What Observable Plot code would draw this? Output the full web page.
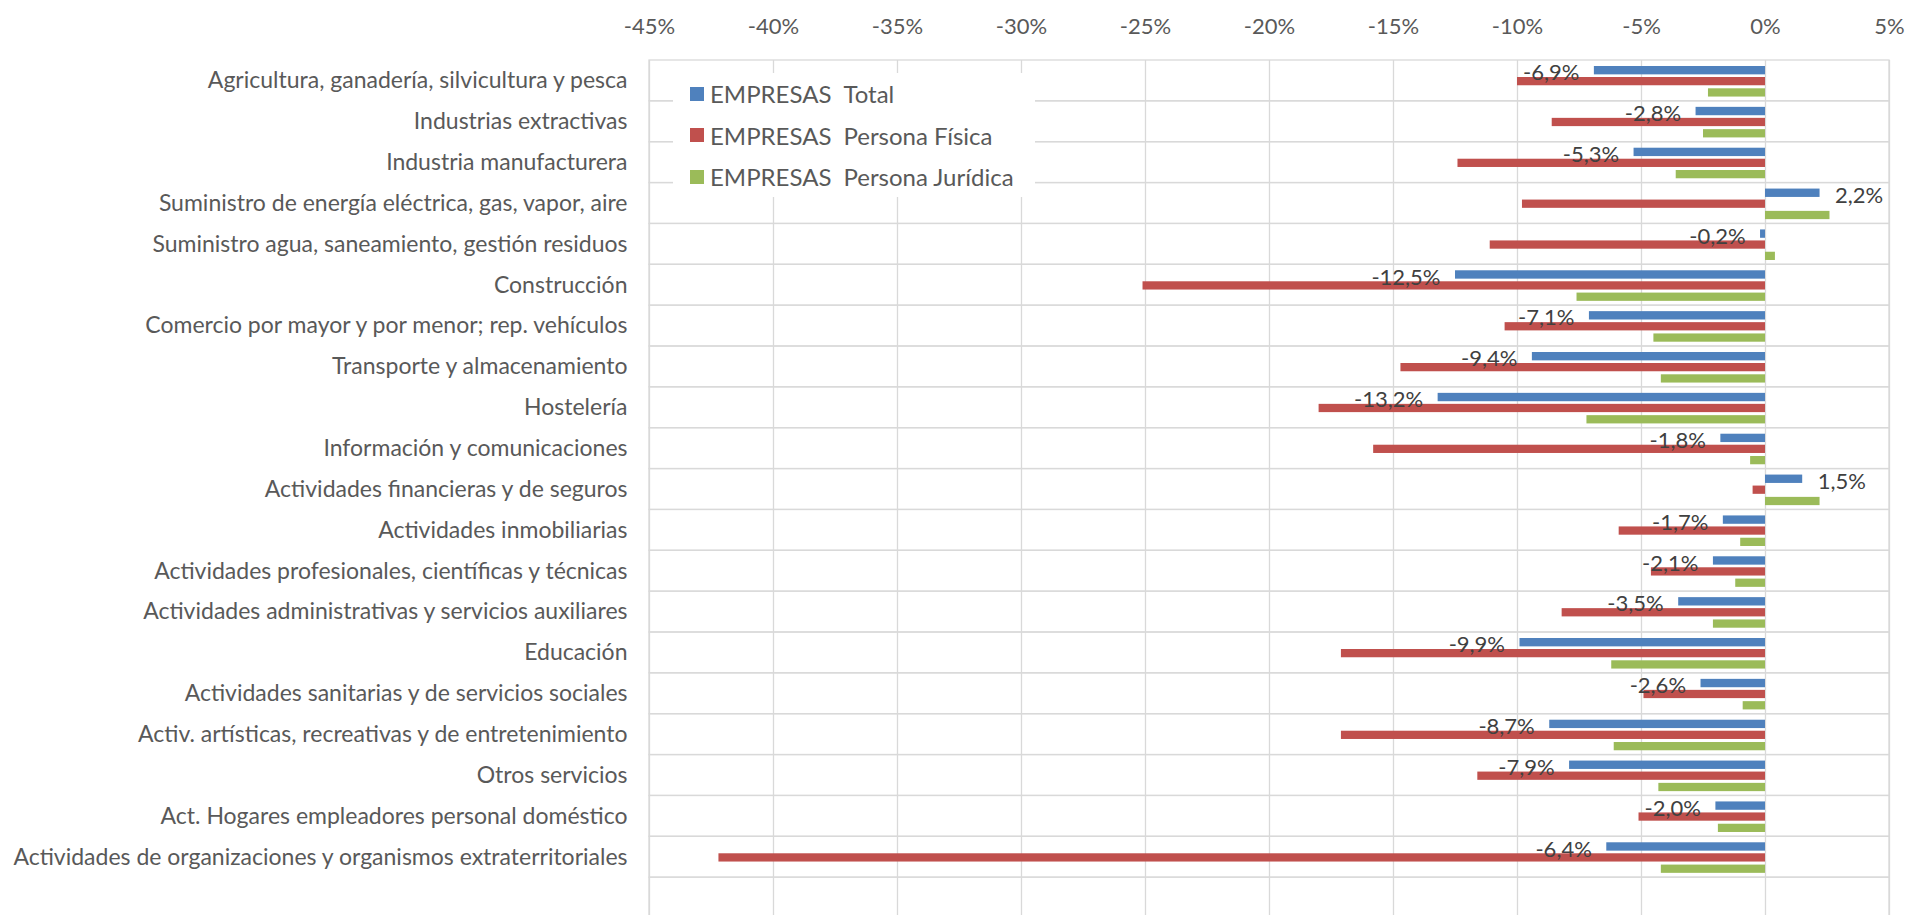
<!DOCTYPE html>
<html>
<head>
<meta charset="utf-8">
<script src="https://cdn.jsdelivr.net/npm/d3@7"></script>
<script src="https://cdn.jsdelivr.net/npm/@observablehq/plot@0.6"></script>
<style>
  html, body { margin: 0; padding: 0; background: #fff; overflow: hidden; }
  #wrap { position: relative; width: 1909px; height: 915px; overflow: hidden; }
  #legend { position: absolute; left: 673px; top: 73px; width: 362px; height: 124px; background: #fff;
            font-family: Lato, sans-serif; font-size: 24px; color: #595959; }
  .item { height: 41.5px; display: flex; align-items: center; white-space: nowrap; }
  .sw { width: 14px; height: 14px; margin-left: 17px; margin-right: 6px; flex: none; }
  .name { margin-left: 12px; }
</style>
</head>
<body>
<div id="wrap"><div id="chart"></div><div id="legend"></div></div>
<script>
const categories = [
  "Agricultura, ganadería, silvicultura y pesca",
  "Industrias extractivas",
  "Industria manufacturera",
  "Suministro de energía eléctrica, gas, vapor, aire",
  "Suministro agua, saneamiento, gestión residuos",
  "Construcción",
  "Comercio por mayor y por menor; rep. vehículos",
  "Transporte y almacenamiento",
  "Hostelería",
  "Información y comunicaciones",
  "Actividades financieras y de seguros",
  "Actividades inmobiliarias",
  "Actividades profesionales, científicas y técnicas",
  "Actividades administrativas y servicios auxiliares",
  "Educación",
  "Actividades sanitarias y de servicios sociales",
  "Activ. artísticas, recreativas y de entretenimiento",
  "Otros servicios",
  "Act. Hogares empleadores personal doméstico",
  "Actividades de organizaciones y organismos extraterritoriales"
];
const total    = [-6.9, -2.8, -5.3, 2.2, -0.2, -12.5, -7.1, -9.4, -13.2, -1.8, 1.5, -1.7, -2.1, -3.5, -9.9, -2.6, -8.7, -7.9, -2.0, -6.4];
const fisica   = [-10.0, -8.6, -12.4, -9.8, -11.1, -25.1, -10.5, -14.7, -18.0, -15.8, -0.5, -5.9, -4.6, -8.2, -17.1, -4.9, -17.1, -11.6, -5.1, -42.2];
const juridica = [-2.3, -2.5, -3.6, 2.6, 0.4, -7.6, -4.5, -4.2, -7.2, -0.6, 2.2, -1.0, -1.2, -2.1, -6.2, -0.9, -6.1, -4.3, -1.9, -4.2];
const seriesPrefix = "EMPRESAS";
const seriesNames = ["Total", "Persona Física", "Persona Jurídica"];
const seriesColors = ["#4F81BD", "#C0504D", "#9BBB59"];
const xTicks = [-45, -40, -35, -30, -25, -20, -15, -10, -5, 0, 5];

// band domain: the categories plus one empty trailing row, as in the original
const rows = [...categories, ""];
const seriesValues = [total, fisica, juridica];
const data = seriesValues.flatMap((vals, s) =>
  vals.map((v, i) => ({category: categories[i], series: seriesNames[s], value: v})));

// vertical placement of each series' bar inside its category band (px)
const insets = [
  {insetTop: 6, insetBottom: 26.5},
  {insetTop: 17, insetBottom: 15.6},
  {insetTop: 28.3, insetBottom: 4.3}
];

const fmt = v => v.toFixed(1).replace(".", ",") + "%";
const totals = data.filter(d => d.series === seriesNames[0]);

const chart = Plot.plot({
  width: 1909,
  height: 915,
  marginLeft: 649,
  marginRight: 20,
  marginTop: 60,
  marginBottom: -3,
  style: {fontFamily: "Lato, sans-serif", color: "#595959", background: "#fff"},
  x: {domain: [xTicks[0], xTicks[xTicks.length - 1]], label: null},
  y: {domain: rows, padding: 0, round: false, label: null},
  marks: [
    Plot.ruleX(xTicks, {stroke: "#d9d9d9", strokeWidth: 1.3}),
    Plot.barX(rows, {y: d => d, x1: () => xTicks[0], x2: () => xTicks[xTicks.length - 1],
      fill: "none", stroke: "#d9d9d9", strokeWidth: 1.3}),
    ...seriesNames.map((s, k) => Plot.barX(data.filter(d => d.series === s), {
      y: "category", x: "value", fill: seriesColors[k], ...insets[k]
    })),
    Plot.text(totals.filter(d => d.value < 0), {
      x: "value", y: "category", text: d => fmt(d.value), textAnchor: "end",
      dx: -15, dy: -7.7, fontSize: 22, fill: "#404040"
    }),
    Plot.text(totals.filter(d => d.value >= 0), {
      x: "value", y: "category", text: d => fmt(d.value), textAnchor: "start",
      dx: 15, dy: -7.7, fontSize: 22, fill: "#404040"
    }),
    Plot.axisX({anchor: "top", ticks: xTicks, tickSize: 0, tickPadding: 27,
      tickFormat: d => d + "%", fontSize: 22, label: null}),
    Plot.axisY({anchor: "left", tickSize: 0, tickPadding: 22, fontSize: 23, label: null})
  ]
});
document.getElementById("chart").appendChild(chart);

const legend = d3.select("#legend");
seriesNames.forEach((s, k) => {
  const item = legend.append("div").attr("class", "item");
  item.append("div").attr("class", "sw").style("background", seriesColors[k]);
  item.append("span").text(seriesPrefix + " ");
  item.append("span").attr("class", "name").text(s);
});
</script>
</body>
</html>
